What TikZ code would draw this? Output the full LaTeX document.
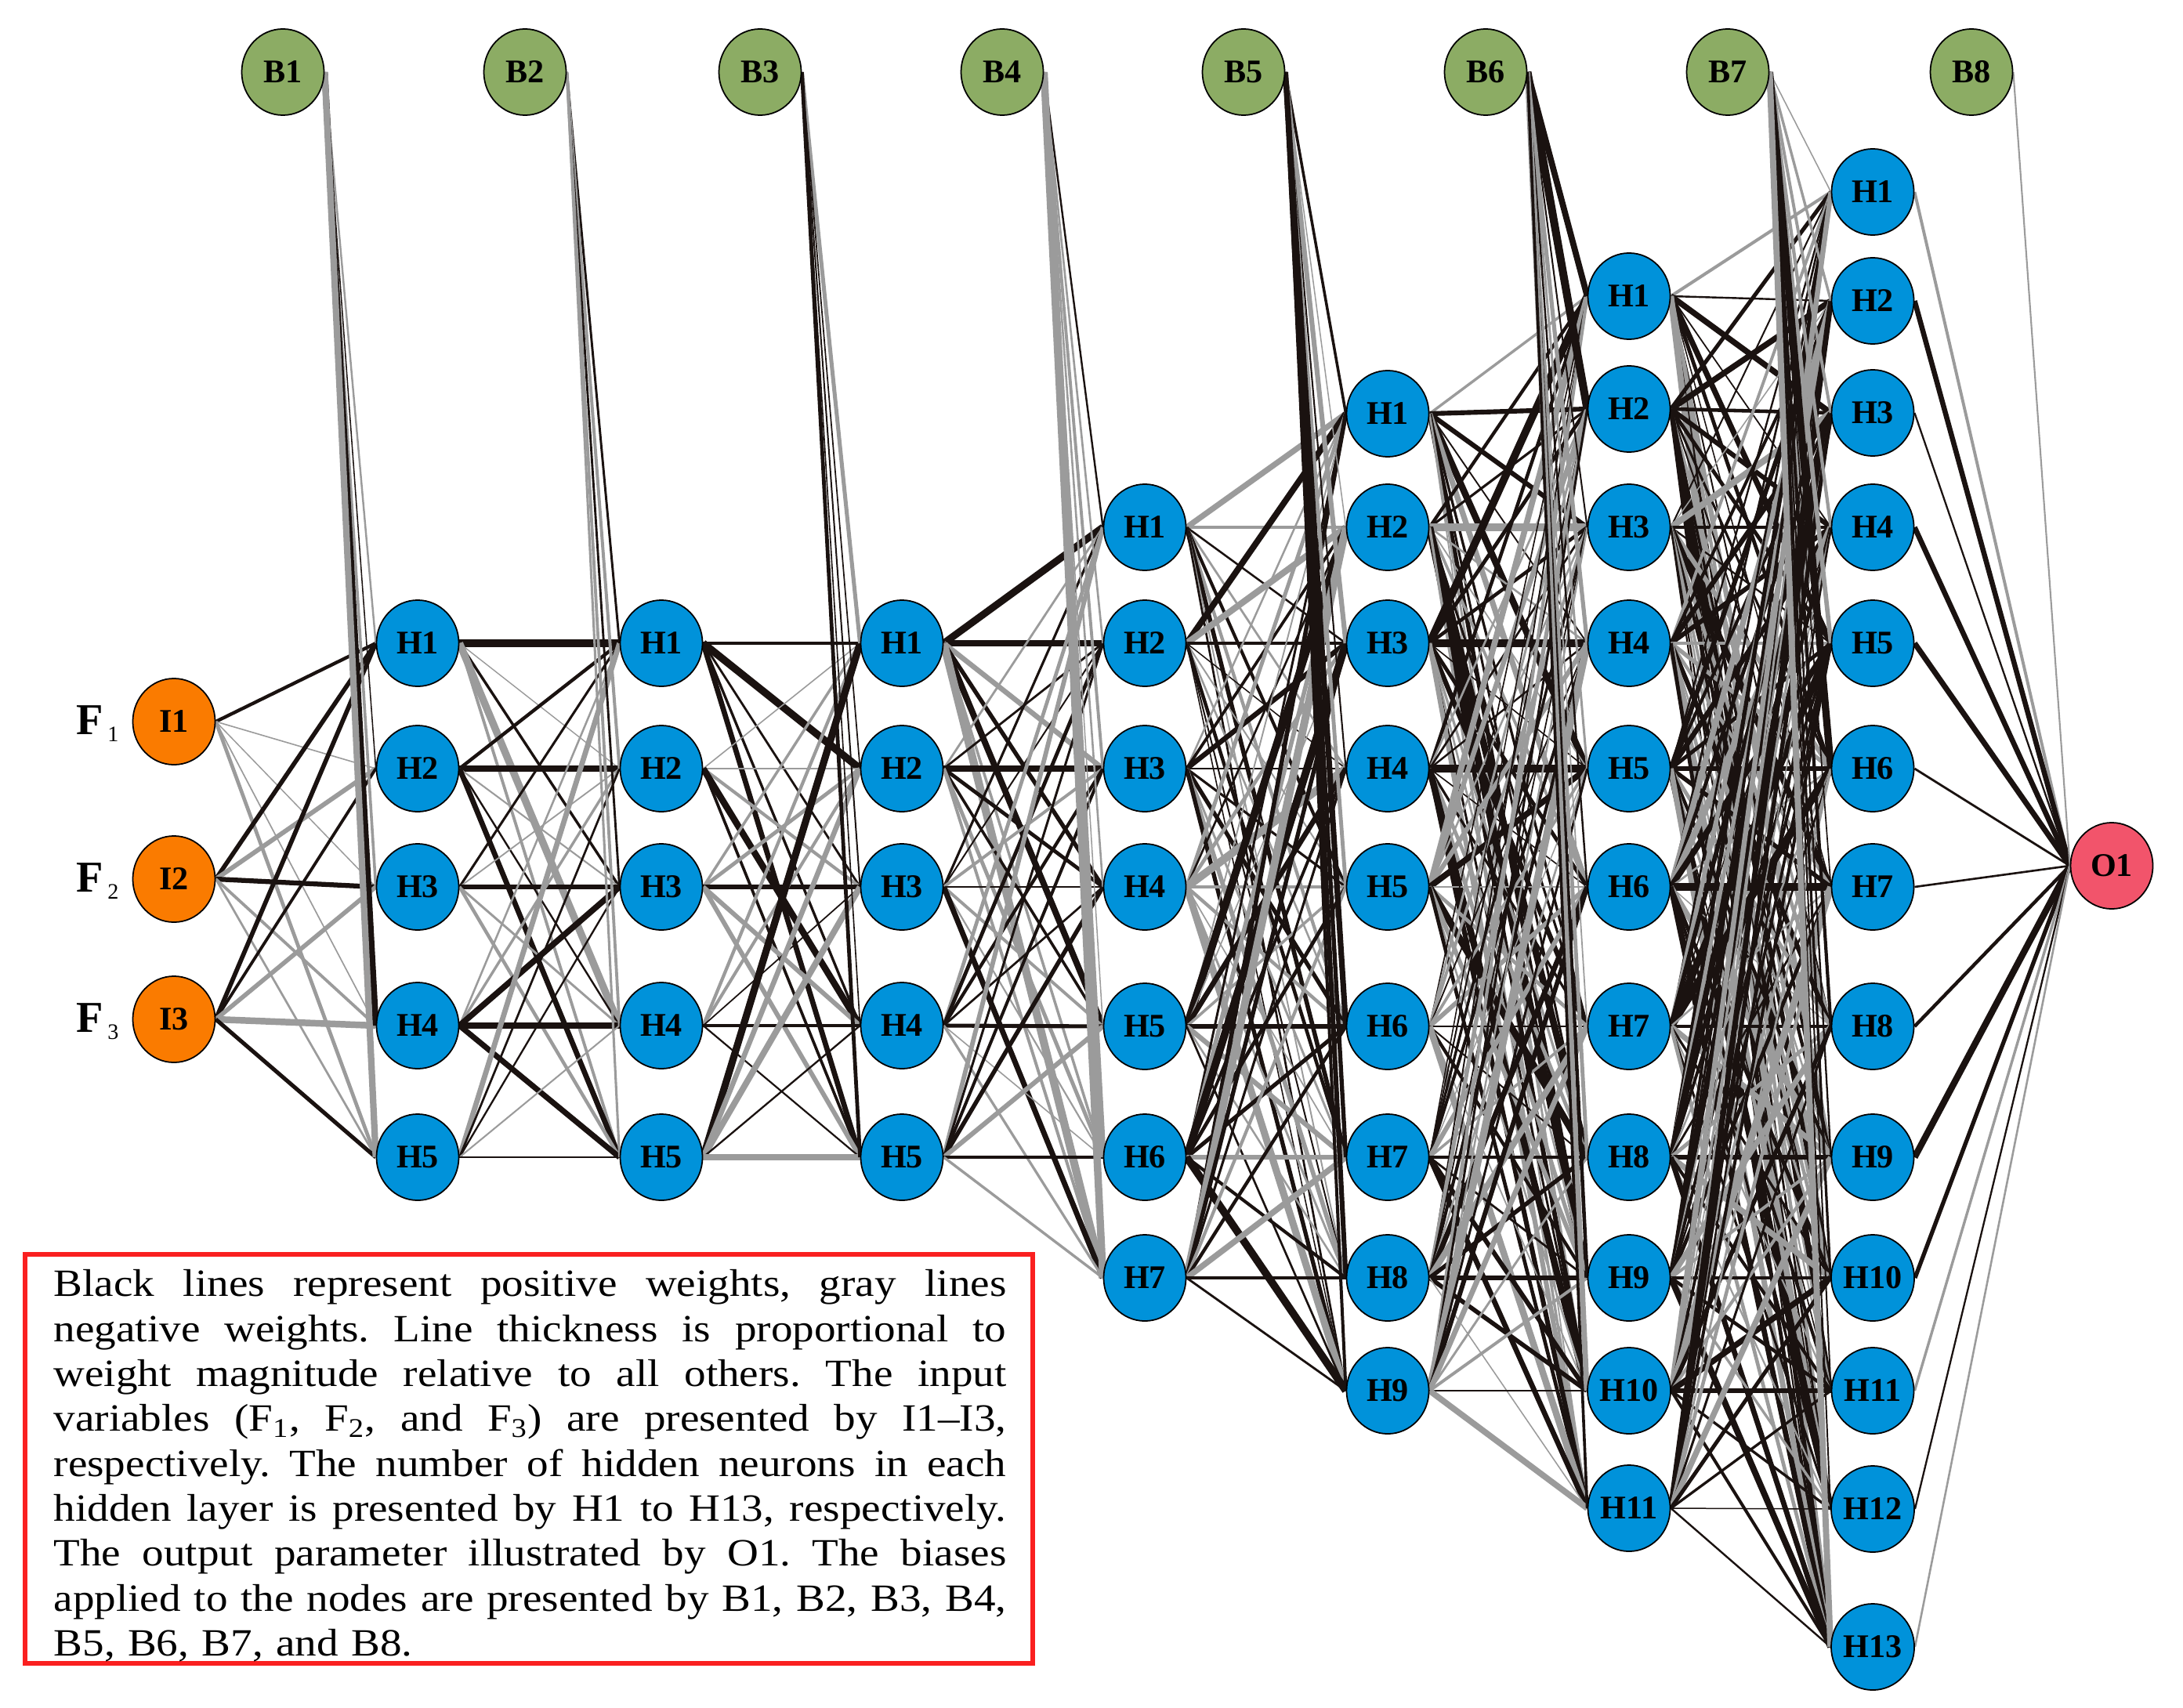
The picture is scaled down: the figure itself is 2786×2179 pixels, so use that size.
\documentclass[tikz,border=0pt]{standalone}
\usepackage{fontspec}
\setmainfont{Liberation Serif}
\newfontfamily\capfont[FakeStretch=1.12,Ligatures=TeX]{Liberation Serif}
\usetikzlibrary{shapes.geometric}
\pgfdeclarelayer{background}
\pgfsetlayers{background,main}
\definecolor{nodeblue}{RGB}{0,146,218}
\definecolor{inorange}{RGB}{250,123,0}
\definecolor{biasgreen}{RGB}{140,172,100}
\definecolor{outred}{RGB}{242,84,107}
\definecolor{edgegray}{RGB}{155,155,155}
\definecolor{edgeblack}{RGB}{26,18,16}
\definecolor{boxred}{RGB}{250,32,32}
\newcommand\randedge[2]{%
  \pgfmathtruncatemacro\isblack{rnd<0.57}%
  \pgfmathsetmacro\lw{0.4+2.7*rnd*(0.3+0.7*rnd)}%
  \ifnum\isblack=1 \draw[wedge,edgeblack,line width=\lw pt](#1)--(#2);%
  \else \draw[wedge,edgegray,line width=\lw pt](#1)--(#2);\fi}
\newcommand\connectlayers[4]{\foreach \a in {1,...,#2}{\foreach \b in {1,...,#4}{\randedge{#1-\a.east}{#3-\b.west}}}}
\newcommand\biasconnect[3]{\foreach \b in {1,...,#3}{\randedge{#1.east}{#2-\b.west}}}
\newcommand\capline[1]{{\frenchspacing\spaceskip=0pt\xspaceskip=0pt\makebox[12.15cm][s]{#1}}}
\begin{document}
\begin{tikzpicture}[x=0.01cm,y=-0.01cm,
  neuron/.style={ellipse,draw=black,line width=0.5pt,minimum width=1.05cm,minimum height=1.1cm,inner sep=0pt,font=\fontsize{12}{13}\selectfont\bfseries},
  hid/.style={neuron,fill=nodeblue},
  inp/.style={neuron,fill=inorange},
  bia/.style={neuron,fill=biasgreen},
  outp/.style={neuron,fill=outred},
  wedge/.style={line cap=butt},
  flabel/.style={anchor=base west,inner sep=0pt}]
\useasboundingbox (0,0) rectangle (2786,2179);
% input nodes
\foreach \y [count=\i] in {921,1122,1301} \node[inp] (L0-\i) at (222,\y) {I\i};
% hidden layers
\foreach \y [count=\i] in {821,981,1132,1309,1477} \node[hid] (L1-\i) at (533,\y) {H\i};
\foreach \y [count=\i] in {821,981,1132,1309,1477} \node[hid] (L2-\i) at (844,\y) {H\i};
\foreach \y [count=\i] in {821,981,1132,1309,1477} \node[hid] (L3-\i) at (1151,\y) {H\i};
\foreach \y [count=\i] in {673,821,981,1132,1310,1477,1631} \node[hid] (L4-\i) at (1461,\y) {H\i};
\foreach \y [count=\i] in {528,673,821,981,1132,1310,1477,1631,1775} \node[hid] (L5-\i) at (1771,\y) {H\i};
\foreach \y [count=\i] in {378,522,673,821,981,1132,1310,1477,1631,1775,1925} \node[hid] (L6-\i) at (2079,\y) {H\i};
\foreach \y [count=\i] in {245,384,527,673,821,981,1132,1310,1477,1631,1775,1926,2102} \node[hid] (L7-\i) at (2390,\y) {H\i};
% output
\node[outp] (O) at (2695,1105) {O1};
% biases
\foreach \x [count=\i] in {361,670,970,1279,1587,1896,2205,2516} \node[bia] (B\i) at (\x,92) {B\i};
% input labels
\node[flabel] (F1) at (97,937) {\fontsize{16}{16}\selectfont\bfseries F\kern1.5pt\raisebox{-2.6pt}{\fontsize{8}{8}\selectfont\mdseries 1}};
\node[flabel] (F2) at (97,1138) {\fontsize{16}{16}\selectfont\bfseries F\kern1.5pt\raisebox{-2.6pt}{\fontsize{8}{8}\selectfont\mdseries 2}};
\node[flabel] (F3) at (97,1317) {\fontsize{16}{16}\selectfont\bfseries F\kern1.5pt\raisebox{-2.6pt}{\fontsize{8}{8}\selectfont\mdseries 3}};
% connections
\begin{pgfonlayer}{background}
\pgfmathsetseed{12}
\connectlayers{L0}{3}{L1}{5}
\connectlayers{L1}{5}{L2}{5}
\connectlayers{L2}{5}{L3}{5}
\connectlayers{L3}{5}{L4}{7}
\connectlayers{L4}{7}{L5}{9}
\connectlayers{L5}{9}{L6}{11}
\connectlayers{L6}{11}{L7}{13}
\foreach \a in {1,...,13}{\randedge{L7-\a.east}{O.west}}
\biasconnect{B1}{L1}{5}
\biasconnect{B2}{L2}{5}
\biasconnect{B3}{L3}{5}
\biasconnect{B4}{L4}{7}
\biasconnect{B5}{L5}{9}
\biasconnect{B6}{L6}{11}
\biasconnect{B7}{L7}{13}
\draw[wedge,edgegray,line width=0.6pt] (B8.east) -- (O.west);
\end{pgfonlayer}
% caption
\draw[boxred,line width=1.5pt] (32,1601) rectangle (1318,2123);
\node[anchor=north west,inner sep=0pt,text width=12.15cm,align=left,
  font=\capfont\fontsize{14}{16.3}\selectfont] (cap) at (68,1620) {%
\capline{Black lines represent positive weights, gray lines}\\
\capline{negative weights. Line thickness is proportional to}\\
\capline{weight magnitude relative to all others. The input}\\
\capline{variables (F\textsubscript{1}, F\textsubscript{2}, and F\textsubscript{3}) are presented by I1\textendash I3,}\\
\capline{respectively. The number of hidden neurons in each}\\
\capline{hidden layer is presented by H1 to H13, respectively.}\\
\capline{The output parameter illustrated by O1. The biases}\\
\capline{applied to the nodes are presented by B1, B2, B3, B4,}\\
B5, B6, B7, and B8.};
\end{tikzpicture}
\end{document}
